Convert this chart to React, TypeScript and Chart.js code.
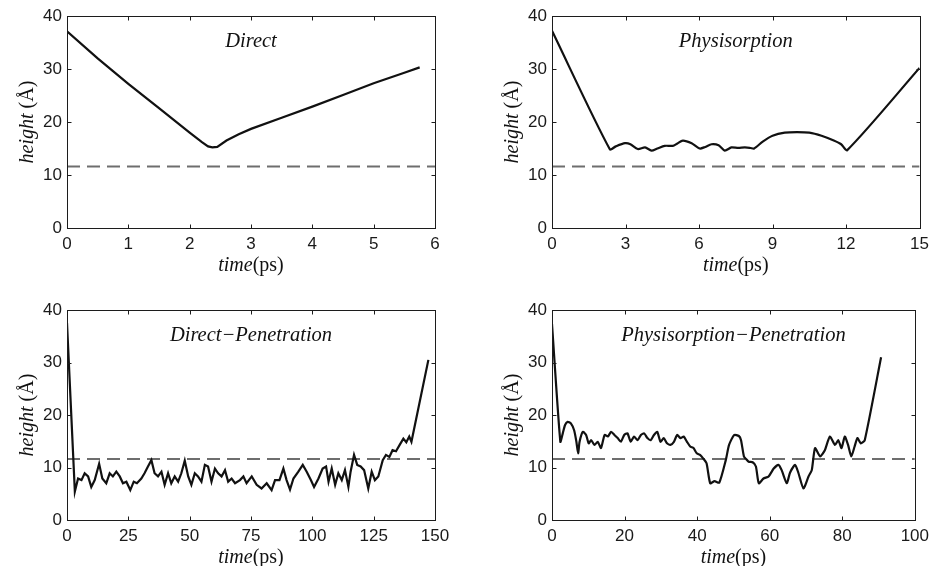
import React, { useEffect, useRef } from 'react';
import { Chart, registerables } from 'chart.js';

Chart.register(...registerables);

// ---- shared axis values ----
const heightTicks = [0, 10, 20, 30, 40];
const thresholdHeight = 11.6;

// ---- Direct ----
const directXTicks = [0, 1, 2, 3, 4, 5, 6];
const directTime = [0, 0.5, 1, 1.5, 2, 2.2, 2.3, 2.37, 2.45, 2.6, 2.8, 3, 3.5, 4, 4.5, 5, 5.5, 5.75];
const directHeight = [37.1, 32.0, 27.2, 22.6, 18.0, 16.2, 15.4, 15.2, 15.3, 16.5, 17.7, 18.7, 20.8, 22.9, 25.1, 27.3, 29.3, 30.3];

// ---- Physisorption ----
const physXTicks = [0, 3, 6, 9, 12, 15];
const physTime = [0, 2.36, 2.6, 2.98, 3.2, 3.5, 3.8, 4.06, 4.3, 4.6, 4.93, 5.1, 5.34, 5.7, 6.03, 6.25, 6.51, 6.8, 7.05, 7.32, 7.6, 7.87, 8.1, 8.25, 8.6, 9, 9.5, 10, 10.5, 11, 11.5, 11.8, 12.05, 15];
const physHeight = [37.2, 14.85, 15.4, 16.0, 15.8, 14.9, 15.2, 14.6, 15.0, 15.5, 15.5, 15.9, 16.5, 16.0, 15.0, 15.3, 15.8, 15.6, 14.6, 15.2, 15.1, 15.2, 15.1, 15.0, 16.3, 17.4, 18.0, 18.1, 18.0, 17.4, 16.5, 15.8, 14.7, 30.2];

// ---- Direct-Penetration ----
const dpXTicks = [0, 25, 50, 75, 100, 125, 150];
const dpTime = [0, 3.2, 4.5, 5.9, 7.2, 8.6, 9.9, 11.3, 13.1, 14.4, 16.0, 17.4, 18.7, 20.1, 21.5, 22.8, 24.2, 25.8, 27.2, 28.5, 30.3, 31.6, 33.0, 34.4, 35.7, 37.1, 38.5, 39.8, 41.2, 42.5, 43.9, 45.3, 46.6, 48.0, 49.4, 50.7, 52.1, 53.4, 54.8, 56.2, 57.5, 58.9, 60.3, 61.6, 63.0, 64.4, 65.7, 67.1, 68.5, 70.5, 71.9, 73.2, 75.3, 77.3, 79.3, 81.4, 83.4, 84.8, 86.6, 88.2, 89.5, 90.9, 92.3, 94.3, 96.1, 97.7, 99.4, 100.7, 102.5, 104.2, 105.6, 106.6, 107.9, 109.3, 110.6, 112.0, 113.3, 114.7, 115.6, 117.0, 118.3, 119.7, 121.1, 122.8, 124.2, 125.5, 126.9, 128.7, 130.0, 131.4, 132.7, 134.1, 135.6, 137.1, 138.3, 139.5, 140.4, 147.3];
const dpHeight = [37.5, 5.4, 7.9, 7.6, 8.9, 8.3, 6.3, 7.6, 10.7, 7.9, 7.0, 8.9, 8.3, 9.2, 8.3, 7.0, 7.3, 5.7, 7.3, 7.0, 7.9, 8.9, 10.2, 11.4, 8.9, 8.3, 9.2, 6.7, 8.9, 7.0, 8.3, 7.3, 8.9, 11.3, 8.3, 6.7, 8.9, 8.3, 7.3, 10.5, 10.2, 7.3, 9.8, 8.9, 8.3, 9.5, 7.3, 7.9, 7.0, 7.6, 8.3, 7.0, 8.3, 6.7, 6.0, 7.0, 5.7, 7.6, 7.6, 9.8, 7.6, 5.8, 7.9, 9.2, 10.5, 9.2, 7.6, 6.3, 7.9, 9.8, 10.2, 7.3, 9.8, 6.7, 8.9, 7.6, 9.5, 6.3, 9.2, 12.4, 10.5, 10.2, 9.5, 6.0, 9.2, 7.6, 8.3, 11.4, 12.4, 12.0, 13.3, 13.1, 14.3, 15.5, 14.8, 15.9, 14.9, 30.5];

// ---- Physisorption-Penetration ----
const ppXTicks = [0, 20, 40, 60, 80, 100];
const ppTime = [0, 2.3, 3.0, 3.6, 4.3, 5.2, 6.1, 6.7, 7.2, 7.6, 8.5, 9.4, 10.1, 10.8, 11.7, 12.6, 13.5, 14.5, 15.4, 16.3, 17.2, 18.1, 19.0, 19.9, 20.8, 21.7, 22.6, 23.6, 24.5, 25.4, 26.3, 27.2, 28.1, 29.0, 29.9, 30.8, 31.7, 32.6, 33.6, 34.5, 35.4, 36.3, 37.2, 38.1, 39.0, 39.9, 40.8, 41.7, 42.6, 43.6, 44.8, 46.1, 47.9, 48.8, 50.2, 51.5, 52.1, 52.9, 53.5, 54.2, 55.3, 56.2, 57.0, 58.3, 59.7, 61.1, 62.4, 63.3, 64.7, 65.6, 67.0, 67.9, 69.3, 70.7, 71.6, 72.5, 73.9, 75.2, 76.6, 78.0, 78.9, 79.8, 80.7, 81.6, 82.5, 83.4, 84.2, 85.1, 86.2, 90.7];
const ppHeight = [37.3, 14.9, 16.6, 18.1, 18.7, 18.4, 17.1, 15.0, 12.7, 14.9, 16.8, 16.2, 14.6, 15.2, 14.3, 14.9, 13.7, 16.2, 15.9, 16.8, 16.2, 15.6, 14.9, 16.2, 16.5, 14.9, 15.9, 15.2, 16.2, 16.5, 15.6, 15.2, 16.2, 16.8, 14.9, 15.6, 14.6, 14.3, 14.9, 16.2, 15.6, 15.9, 14.9, 14.0, 13.7, 12.7, 12.4, 11.7, 10.8, 7.0, 7.4, 7.1, 11.4, 14.3, 16.2, 16.0, 15.2, 12.1, 11.6, 11.1, 11.0, 10.2, 7.0, 7.9, 8.3, 9.8, 10.5, 9.5, 7.0, 9.0, 10.5, 9.0, 6.0, 8.3, 9.5, 13.7, 12.1, 13.3, 15.9, 14.3, 15.2, 13.7, 15.9, 14.3, 12.1, 14.0, 15.6, 14.6, 15.2, 31.0];

const SERIF = '"Liberation Serif", "Times New Roman", serif';
const SANS = '"Liberation Sans", Arial, sans-serif';

function drawMixed(ctx: CanvasRenderingContext2D, parts: { text: string; font: string }[], cx: number, y: number) {
  const widths = parts.map((p) => {
    ctx.font = p.font;
    return ctx.measureText(p.text).width;
  });
  const total = widths.reduce((s, w) => s + w, 0);
  let x = cx - total / 2;
  ctx.textAlign = 'left';
  ctx.textBaseline = 'alphabetic';
  parts.forEach((p, i) => {
    ctx.font = p.font;
    ctx.fillText(p.text, x, y);
    x += widths[i];
  });
}

const framePlugin = {
  id: 'frame',
  afterDraw(chart: any, _args: any, opts: any) {
    const { ctx, chartArea: a, scales } = chart;
    const xs = scales.x;
    const ys = scales.y;
    ctx.save();
    ctx.strokeStyle = '#1c1c1c';
    ctx.lineWidth = 1;
    const L = Math.round(a.left) + 0.5;
    const R = Math.round(a.right) + 0.5;
    const T = Math.round(a.top) + 0.5;
    const B = Math.round(a.bottom) + 0.5;
    ctx.strokeRect(L, T, R - L, B - T);
    const len = 4;
    ctx.beginPath();
    xs.ticks.forEach((t: any) => {
      const x = Math.round(xs.getPixelForValue(t.value)) + 0.5;
      ctx.moveTo(x, B);
      ctx.lineTo(x, B - len);
      ctx.moveTo(x, T);
      ctx.lineTo(x, T + len);
    });
    ys.ticks.forEach((t: any) => {
      const y = Math.round(ys.getPixelForValue(t.value)) + 0.5;
      ctx.moveTo(L, y);
      ctx.lineTo(L + len, y);
      ctx.moveTo(R, y);
      ctx.lineTo(R - len, y);
    });
    ctx.stroke();

    ctx.fillStyle = '#111';
    const cx = (a.left + a.right) / 2;
    ctx.font = `italic 20.5px ${SERIF}`;
    ctx.textAlign = 'center';
    ctx.textBaseline = 'alphabetic';
    ctx.fillText(opts.title, cx, a.top + 31);

    drawMixed(
      ctx,
      [
        { text: 'time', font: `italic 20px ${SERIF}` },
        { text: '(ps)', font: `20px ${SERIF}` },
      ],
      cx,
      a.bottom + 43
    );

    ctx.save();
    ctx.translate(a.left - 34, (a.top + a.bottom) / 2);
    ctx.rotate(-Math.PI / 2);
    drawMixed(
      ctx,
      [
        { text: 'height', font: `italic 20px ${SERIF}` },
        { text: ' (Å)', font: `20px ${SERIF}` },
      ],
      0,
      0
    );
    ctx.restore();
    ctx.restore();
  },
};

type PanelProps = {
  title: string;
  time: number[];
  height: number[];
  xTicks: number[];
  tension: number;
  left: number;
  top: number;
  width: number;
  boxHeight: number;
  padTop: number;
  padRight: number;
  xAxisHeight: number;
};

function Panel(p: PanelProps) {
  const ref = useRef<HTMLCanvasElement | null>(null);
  useEffect(() => {
    if (!ref.current) return;
    const xMax = p.xTicks[p.xTicks.length - 1];
    const xMin = p.xTicks[0];
    const chart = new Chart(ref.current, {
      type: 'line',
      data: {
        datasets: [
          {
            data: p.time.map((t, i) => ({ x: t, y: p.height[i] })),
            borderColor: '#111',
            borderWidth: 2.2,
            pointRadius: 0,
            tension: p.tension,
            fill: false,
          },
          {
            data: [
              { x: xMin, y: thresholdHeight },
              { x: xMax, y: thresholdHeight },
            ],
            borderColor: '#6e6e6e',
            borderWidth: 2,
            borderDash: [13, 7],
            pointRadius: 0,
            fill: false,
          },
        ],
      },
      options: {
        animation: false,
        responsive: false,
        events: [],
        layout: { padding: { left: 0, top: p.padTop, right: p.padRight, bottom: 0 } },
        plugins: {
          legend: { display: false },
          tooltip: { enabled: false },
          title: { display: false },
          frame: { title: p.title },
        } as any,
        scales: {
          x: {
            type: 'linear',
            min: xMin,
            max: xMax,
            grid: { display: false, drawTicks: false },
            border: { display: false },
            afterBuildTicks: (scale: any) => {
              scale.ticks = p.xTicks.map((v) => ({ value: v }));
            },
            afterFit: (scale: any) => {
              scale.height = p.xAxisHeight;
            },
            ticks: {
              autoSkip: false,
              maxRotation: 0,
              padding: 6,
              color: '#1a1a1a',
              font: { family: SANS, size: 17 },
            },
          },
          y: {
            type: 'linear',
            min: 0,
            max: 40,
            grid: { display: false, drawTicks: false },
            border: { display: false },
            afterBuildTicks: (scale: any) => {
              scale.ticks = heightTicks.map((v) => ({ value: v }));
            },
            afterFit: (scale: any) => {
              scale.width = 67;
            },
            ticks: {
              padding: 5,
              color: '#1a1a1a',
              font: { family: SANS, size: 17 },
            },
          },
        },
      },
      plugins: [framePlugin],
    } as any);
    return () => chart.destroy();
  }, []);
  return (
    <canvas
      ref={ref}
      width={p.width}
      height={p.boxHeight}
      style={{ position: 'absolute', left: p.left, top: p.top, display: 'block' }}
    />
  );
}

export default function App() {
  return (
    <div style={{ position: 'absolute', left: 0, top: 0, width: 935, height: 566, background: '#fff', overflow: 'hidden' }}>
      <Panel title="Direct" time={directTime} height={directHeight} xTicks={directXTicks} tension={0}
        left={0} top={0} width={467} boxHeight={283} padTop={16} padRight={32} xAxisHeight={55} />
      <Panel title="Physisorption" time={physTime} height={physHeight} xTicks={physXTicks} tension={0.25}
        left={485} top={0} width={450} boxHeight={283} padTop={16} padRight={15} xAxisHeight={55} />
      <Panel title={'Direct\u2212Penetration'} time={dpTime} height={dpHeight} xTicks={dpXTicks} tension={0}
        left={0} top={283} width={467} boxHeight={283} padTop={27} padRight={32} xAxisHeight={46} />
      <Panel title={'Physisorption\u2212Penetration'} time={ppTime} height={ppHeight} xTicks={ppXTicks} tension={0.2}
        left={485} top={283} width={450} boxHeight={283} padTop={27} padRight={15} xAxisHeight={46} />
    </div>
  );
}
